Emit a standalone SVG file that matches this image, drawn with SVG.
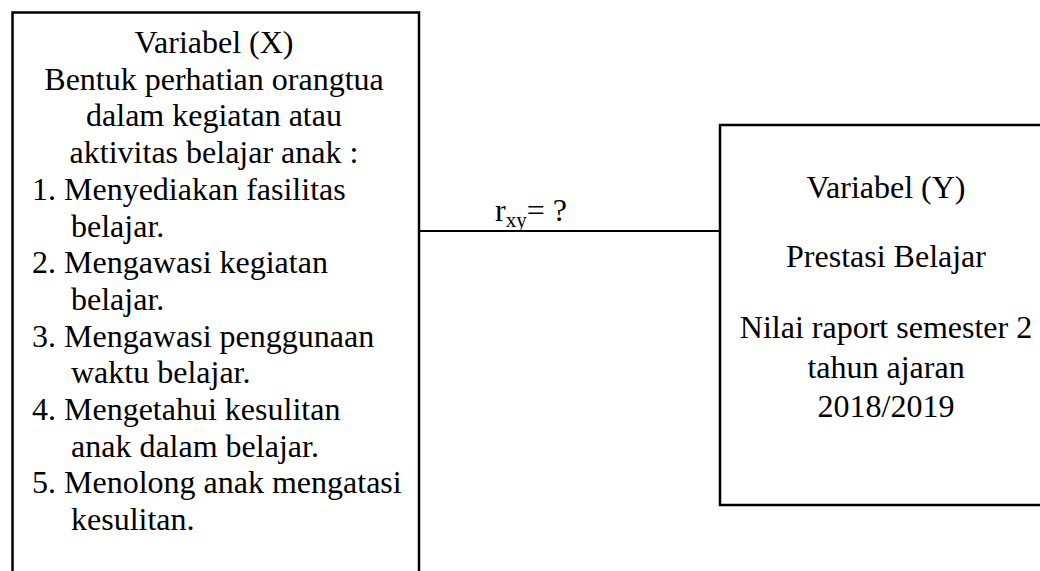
<svg xmlns="http://www.w3.org/2000/svg" width="1040" height="571" viewBox="0 0 1040 571">
<style>
.box{fill:#fff;stroke:#000;stroke-width:2.5}
.t{font-family:"Liberation Serif","Times New Roman",serif;font-size:32px;fill:#000}
.c{text-anchor:middle}
.ln{stroke:#000;stroke-width:2;fill:none}
</style>
<rect width="1040" height="571" fill="#fff"/>
<g id="connectors">
<line class="ln" x1="419" y1="231" x2="720" y2="231"/>
<text class="t" x="495" y="221">r<tspan font-size="21" dy="6">xy</tspan><tspan dy="-6">= ?</tspan></text>
</g>
<g id="node-x">
<rect class="box" x="12.5" y="12.5" width="406.5" height="600"/>
<text class="t c" x="214" y="53">Variabel (X)</text>
<text class="t c" x="214" y="89.7">Bentuk perhatian orangtua</text>
<text class="t c" x="214" y="126.4">dalam kegiatan atau</text>
<text class="t c" x="214" y="163.1">aktivitas belajar anak :</text>
<text class="t" x="32" y="199.8">1. Menyediakan fasilitas</text>
<text class="t" x="71" y="236.5">belajar.</text>
<text class="t" x="32" y="273.2">2. Mengawasi kegiatan</text>
<text class="t" x="71" y="309.9">belajar.</text>
<text class="t" x="32" y="346.6">3. Mengawasi penggunaan</text>
<text class="t" x="71" y="383.3">waktu belajar.</text>
<text class="t" x="32" y="420">4. Mengetahui kesulitan</text>
<text class="t" x="71" y="456.7">anak dalam belajar.</text>
<text class="t" x="32" y="493.4">5. Menolong anak mengatasi</text>
<text class="t" x="71" y="530.1">kesulitan.</text>
</g>
<g id="node-y">
<rect class="box" x="720" y="125" width="340" height="380"/>
<text class="t c" x="886" y="198">Variabel (Y)</text>
<text class="t c" x="886" y="267">Prestasi Belajar</text>
<text class="t c" x="886" y="338">Nilai raport semester 2</text>
<text class="t c" x="886" y="378">tahun ajaran</text>
<text class="t c" x="886" y="417">2018/2019</text>
</g>
</svg>
